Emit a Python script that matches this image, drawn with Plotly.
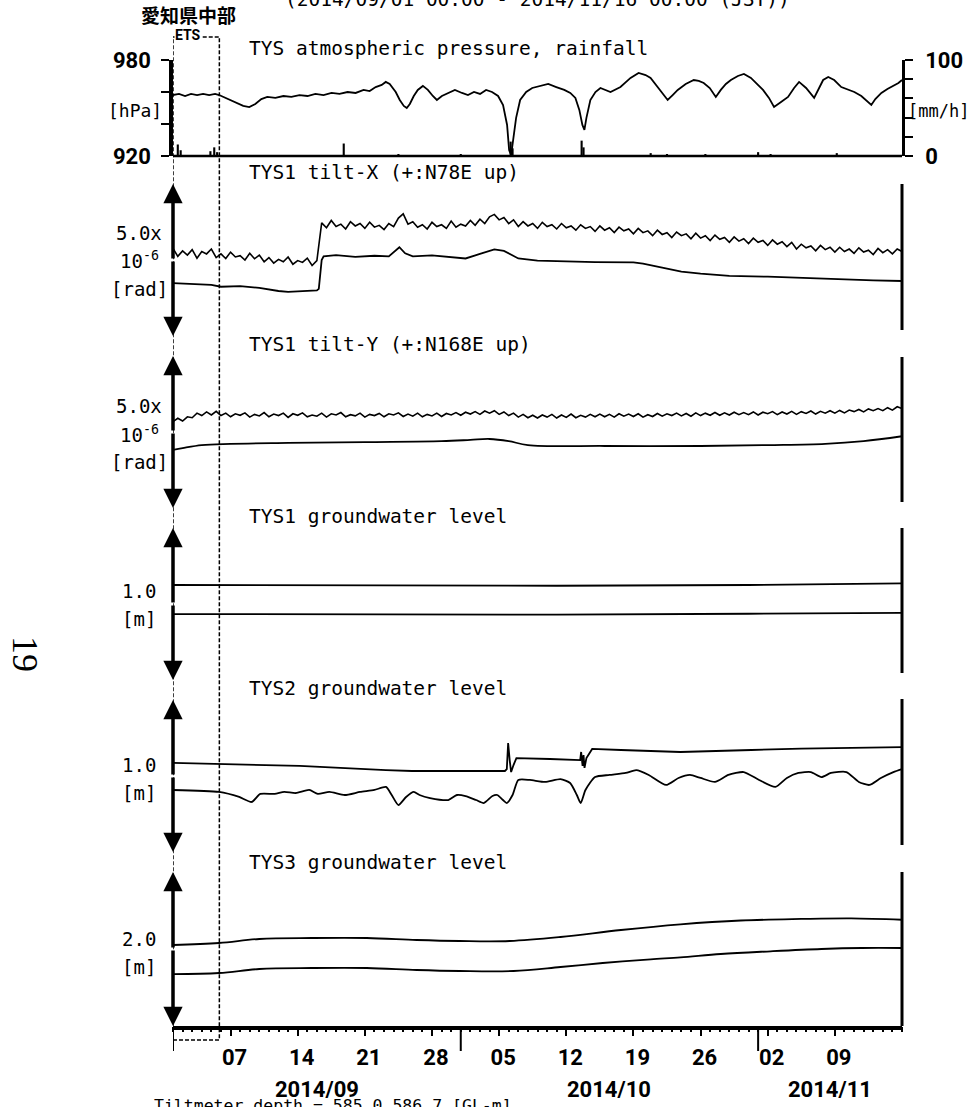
import pandas as pd
import plotly.graph_objects as go

W, H = 975, 1107
START = pd.Timestamp("2014-09-01 00:00")
END = pd.Timestamp("2014-11-16 00:00")

# ---------------- data (days since 2014-09-01 00:00 JST) ----------------
pres_day = [0, 0.63, 1.26, 1.88, 2.51, 3.14, 3.77, 4.39, 4.81,
            5.44, 6.07, 6.69, 7.32, 7.95, 8.58, 9.21, 9.83,
            10.67, 11.51, 12.34, 13.18, 14.02, 14.85, 15.69, 16.53, 17.36, 18.20, 19.04, 19.87,
            20.50, 21.13, 21.76, 22.18, 22.59, 23.22, 23.64, 24.06, 24.37, 24.69, 25.10, 25.52, 26.05, 26.57, 27.09, 27.51,
            28.03, 28.66, 29.39, 30.13, 30.75, 31.38, 32.01, 32.64, 33.26, 33.89,
            34.41, 34.83, 35.04, 35.25, 35.46, 35.77, 36.19, 36.82, 37.45, 38.28, 39.12, 39.96, 40.79, 41.42, 41.95, 42.36,
            42.68, 42.89, 43.10, 43.51, 44.04, 44.56,
            45.61, 46.65, 47.70, 48.54, 49.27, 49.79, 50.63, 51.57, 52.09, 52.62, 53.45, 54.29, 54.81, 55.33, 55.96,
            56.59, 57.11, 57.64, 58.16, 58.89, 59.52, 60.25, 60.98, 61.51, 62.13, 62.66, 63.39, 64.12, 64.75, 65.27,
            66.00, 66.84, 67.36, 67.78, 68.31, 68.93, 69.67, 70.29, 71.03, 71.76, 72.38, 72.80, 73.22, 73.85, 74.48,
            75.10, 75.63, 76.0]
pres_hpa = [958.1, 958.8, 957.5, 958.8, 958.1, 958.8, 958.1, 958.8, 958.1,
            956.3, 955.0, 953.1, 951.3, 950.6, 952.5, 955.6, 956.9,
            956.3, 957.5, 956.9, 958.1, 957.5, 958.8, 958.1, 959.4, 958.8, 960.0, 959.4, 961.3,
            960.6, 963.1, 964.4, 966.3, 965.0, 960.0, 955.0, 951.3, 950.0, 952.5, 957.5, 961.3, 963.8, 961.3, 957.5, 955.0,
            957.5, 959.4, 961.3, 959.4, 958.1, 960.0, 958.8, 961.3, 960.0, 957.5,
            951.9, 939.4, 923.8, 920.6, 930.0, 943.8, 955.0, 960.0, 962.5, 963.8, 965.0, 963.1, 961.3, 959.4, 956.3, 948.8,
            939.4, 936.3, 943.8, 955.0, 960.0, 962.5,
            960.0, 963.1, 968.8, 971.9, 970.6, 968.8, 962.5, 955.0, 958.1, 961.3, 965.0, 967.5, 966.9, 965.6, 962.5,
            956.9, 961.3, 965.0, 967.5, 970.0, 971.3, 968.8, 964.4, 961.3, 956.3, 950.6, 953.8, 956.9, 962.5, 966.3,
            962.5, 956.3, 962.5, 967.5, 969.4, 967.5, 963.1, 961.9, 960.0, 957.5, 953.8, 951.9, 955.6, 959.4, 961.9,
            963.8, 965.6, 967.5]

rain_day = [0.5, 0.8, 3.9, 4.3, 4.6, 17.8, 23.5, 30.0, 35.2, 35.4, 42.6, 42.8, 49.8, 51.5, 55.5, 61.0, 62.3, 69.2]
rain_mmh = [12, 6, 5, 9, 4, 13, 2, 2, 15, 8, 16, 9, 3, 2, 2, 4, 2, 3]

# tilt-X (upper trace: 12-hourly samples, micro-rad relative)
tiltx_hi = [2.88, 2.62, 2.80, 2.66, 2.84, 2.56, 2.78, 2.70, 2.86, 2.58,
            2.70, 2.55, 2.76, 2.60, 2.64, 2.50, 2.72, 2.54, 2.66, 2.44,
            2.58, 2.40, 2.52, 2.44, 2.60, 2.36, 2.48, 2.42, 2.56, 2.32,
            2.48, 3.72, 3.56, 3.80, 3.60, 3.68, 3.52, 3.76, 3.62, 3.70,
            3.54, 3.74, 3.58, 3.64, 3.50, 3.70, 3.60, 3.88, 4.02, 3.68,
            3.76, 3.58, 3.66, 3.52, 3.74, 3.60, 3.66, 3.54, 3.78, 3.58,
            3.68, 3.62, 3.80, 3.64, 3.84, 3.70, 3.92, 4.00, 3.82, 3.90,
            3.70, 3.82, 3.60, 3.76, 3.62, 3.70, 3.54, 3.74, 3.60, 3.66,
            3.52, 3.70, 3.56, 3.62, 3.48, 3.66, 3.54, 3.60, 3.44, 3.62,
            3.48, 3.56, 3.40, 3.58, 3.46, 3.52, 3.36, 3.54, 3.40, 3.46,
            3.30, 3.48, 3.34, 3.40, 3.24, 3.42, 3.30, 3.36, 3.20, 3.38,
            3.22, 3.30, 3.14, 3.32, 3.18, 3.24, 3.08, 3.26, 3.12, 3.20,
            3.04, 3.22, 3.08, 3.14, 2.98, 3.16, 3.02, 3.10, 2.94, 3.08,
            2.86, 3.02, 2.90, 2.96, 2.80, 2.98, 2.84, 2.92, 2.76, 2.92,
            2.78, 2.86, 2.72, 2.90, 2.76, 2.82, 2.68, 2.88, 2.74, 2.84,
            2.70, 2.86, 2.78]
tiltx_lo_day = [0, 2, 4, 5, 7, 9, 10, 11, 12, 13,
                14, 15, 15.2, 15.5, 15.7, 17, 19, 21, 22.5, 23.6,
                24.2, 25, 27, 29, 30.5, 32, 33.5, 34.5, 36, 38,
                41, 44, 48, 49, 51, 53, 55, 58, 62, 66,
                70, 73, 76]
tiltx_lo = [1.74, 1.70, 1.68, 1.62, 1.64, 1.58, 1.52, 1.48, 1.45, 1.47,
            1.48, 1.50, 1.55, 2.50, 2.62, 2.66, 2.60, 2.64, 2.62, 2.92,
            2.72, 2.62, 2.65, 2.58, 2.55, 2.70, 2.85, 2.80, 2.55, 2.48,
            2.45, 2.43, 2.42, 2.38, 2.25, 2.12, 2.05, 1.98, 1.95, 1.90,
            1.86, 1.83, 1.81]

# tilt-Y
tilty_hi = [2.84, 2.95, 2.86, 3.00, 2.97, 3.12, 3.04, 3.16, 3.06, 3.18,
            3.04, 3.12, 3.00, 3.10, 3.05, 3.13, 2.99, 3.08, 3.03, 3.14,
            3.00, 3.09, 3.04, 3.12, 2.98, 3.10, 3.05, 3.13, 3.00, 3.06,
            3.02, 3.12, 2.99, 3.10, 3.06, 3.14, 3.00, 3.07, 3.03, 3.12,
            2.99, 3.08, 3.04, 3.11, 3.00, 3.10, 3.06, 3.13, 3.01, 3.09,
            3.02, 3.12, 3.00, 3.08, 3.03, 3.12, 3.01, 3.11, 3.06, 3.14,
            3.05, 3.15, 3.09, 3.17, 3.08, 3.19, 3.12, 3.20, 3.08, 3.16,
            3.04, 3.12, 2.99, 3.08, 2.97, 3.05, 2.96, 3.06, 2.99, 3.08,
            2.96, 3.06, 2.98, 3.09, 2.97, 3.05, 2.99, 3.08, 3.00, 3.09,
            3.00, 3.08, 2.99, 3.10, 3.02, 3.09, 3.01, 3.10, 2.99, 3.07,
            3.01, 3.11, 3.02, 3.10, 3.04, 3.12, 3.03, 3.11, 3.02, 3.13,
            3.04, 3.12, 3.05, 3.14, 3.05, 3.13, 3.06, 3.15, 3.07, 3.14,
            3.07, 3.16, 3.06, 3.15, 3.10, 3.17, 3.07, 3.16, 3.09, 3.18,
            3.08, 3.17, 3.11, 3.19, 3.09, 3.18, 3.12, 3.20, 3.12, 3.21,
            3.13, 3.22, 3.17, 3.24, 3.16, 3.26, 3.20, 3.27, 3.20, 3.30,
            3.22, 3.33, 3.27]
tilty_lo_day = [0, 1, 3, 6, 12, 20, 28, 31, 33, 35, 37, 45, 55, 62, 68, 72, 76]
tilty_lo = [1.91, 1.97, 2.07, 2.11, 2.14, 2.17, 2.20, 2.24, 2.27, 2.20, 2.07, 2.04, 2.04, 2.07, 2.11, 2.20, 2.36]

# groundwater levels [m, relative]
gw1_day = [0, 20, 40, 60, 76]
gw1_hi = [0.625, 0.622, 0.620, 0.625, 0.636]
gw1_lo = [0.434, 0.432, 0.430, 0.436, 0.441]

gw2_hi_day = [0, 4.8, 13.2, 22.2, 24.9, 29.9, 34.6, 34.8, 34.94, 35.1,
              35.25, 35.5, 35.8, 39.3, 42.45, 42.55, 42.7, 42.8, 42.9, 43.1,
              43.7, 46.7, 52.9, 60.3, 65.5, 76]
gw2_hi = [0.586, 0.579, 0.566, 0.539, 0.533, 0.533, 0.533, 0.546, 0.717, 0.605,
          0.526, 0.572, 0.618, 0.612, 0.605, 0.658, 0.566, 0.638, 0.553, 0.618,
          0.678, 0.671, 0.658, 0.671, 0.680, 0.690]
gw2_lo_day = [0, 4.8, 6.9, 8.2, 9.1, 10.6, 11.6, 12.8, 14.2, 15.1,
              16.3, 17.9, 19.5, 21.0, 22.2, 22.8, 23.5, 24.3, 25.1, 25.7,
              26.8, 28.7, 29.6, 30.5, 31.6, 32.4, 33.3, 33.8, 34.4, 34.8,
              35.4, 36.0, 37.2, 38.8, 40.4, 41.4, 42.1, 42.5, 43.0, 44.0,
              45.5, 47.2, 48.3, 49.6, 51.4, 52.7, 53.9, 55.0, 56.5, 57.9,
              59.5, 61.1, 62.8, 64.0, 65.2, 66.5, 67.6, 68.6, 70.2, 71.5,
              72.6, 73.8, 75.1, 76]
gw2_lo = [0.408, 0.395, 0.362, 0.329, 0.382, 0.382, 0.395, 0.388, 0.408, 0.382,
          0.395, 0.375, 0.395, 0.408, 0.428, 0.375, 0.309, 0.362, 0.395, 0.375,
          0.355, 0.342, 0.375, 0.368, 0.342, 0.322, 0.368, 0.375, 0.342, 0.322,
          0.375, 0.474, 0.474, 0.461, 0.480, 0.454, 0.375, 0.322, 0.408, 0.493,
          0.507, 0.520, 0.539, 0.507, 0.441, 0.487, 0.507, 0.487, 0.461, 0.507,
          0.526, 0.474, 0.428, 0.487, 0.520, 0.526, 0.493, 0.520, 0.526, 0.461,
          0.441, 0.487, 0.526, 0.546]

gw3_hi_day = [0, 4.8, 9, 14.5, 20.2, 25.4, 29.9, 35.1, 40.4, 46.7, 52.9, 59.2, 65.5, 70.7, 76]
gw3_hi = [1.052, 1.078, 1.130, 1.143, 1.143, 1.117, 1.104, 1.104, 1.156, 1.247, 1.320, 1.370, 1.390, 1.398, 1.380]
gw3_lo_day = [0, 4.8, 9, 14.5, 20.2, 25.4, 29.9, 35.5, 40.4, 44.8, 49.8, 52.9, 57.1, 62.3, 67.6, 71.8, 76]
gw3_lo = [0.675, 0.688, 0.740, 0.753, 0.753, 0.727, 0.714, 0.714, 0.766, 0.818, 0.866, 0.890, 0.935, 0.970, 1.000, 1.013, 1.013]

week_days = ["2014-09-07", "2014-09-14", "2014-09-21", "2014-09-28", "2014-10-05",
             "2014-10-12", "2014-10-19", "2014-10-26", "2014-11-02", "2014-11-09"]
week_labels = ["07", "14", "21", "28", "05", "12", "19", "26", "02", "09"]
month_starts = ["2014-09-01", "2014-10-01", "2014-11-01"]
month_labels = ["2014/09", "2014/10", "2014/11"]
month_label_at = ["2014-09-16 00:00", "2014-10-16 12:00", "2014-11-08 12:00"]
ets_period = ["2014-09-01 00:00", "2014-09-05 20:00"]

panel_titles = ["TYS atmospheric pressure, rainfall", "TYS1 tilt-X (+:N78E up)",
                "TYS1 tilt-Y (+:N168E up)", "TYS1 groundwater level",
                "TYS2 groundwater level", "TYS3 groundwater level"]
panel_ranges = [[920, 980], [0, 5.0], [0, 5.0], [0, 1.0], [0, 1.0], [0, 2.0]]
scale_labels = [None, ["5.0x", "10<sup>-6</sup>", "[rad]"], ["5.0x", "10<sup>-6</sup>", "[rad]"],
                ["1.0", "[m]"], ["1.0", "[m]"], ["2.0", "[m]"]]

# ---------------- helpers ----------------
def px(x):
    return x / W

def py(y):
    return 1 - y / H

def t(days):
    return [START + pd.Timedelta(days=d) for d in days]

def t12(n):
    return [START + pd.Timedelta(hours=12 * i) for i in range(n)]

# layout geometry (pixels)
X0, X1 = 173, 902
PANELS = [(60, 156), (184, 336), (356, 508), (528, 680), (700, 852), (872, 1026)]
RIGHT_BAR = [(184, 330), (357, 502), (528, 673), (699, 845), (872, 1026)]
TITLE_Y = [48, 172, 344, 516, 688, 862]
LABEL_Y = [None, [233, 260, 289], [406, 434, 462], [591, 619], [765, 793], [939, 967]]

MONO = "DejaVu Sans Mono, Liberation Mono, monospace"
NUM = "Roboto, Liberation Sans, sans-serif"
LINE = dict(color="black", width=1.8)

fig = go.Figure()

# panel 1
fig.add_trace(go.Scatter(x=t(pres_day), y=pres_hpa, mode="lines", line=LINE, yaxis="y"))
fig.add_trace(go.Bar(x=t(rain_day), y=rain_mmh, width=0.22 * 86400000,
                     marker=dict(color="black", line=dict(width=0)), yaxis="y7"))
# panel 2
fig.add_trace(go.Scatter(x=t12(len(tiltx_hi)), y=tiltx_hi, mode="lines", line=dict(color="black", width=1.6), yaxis="y2"))
fig.add_trace(go.Scatter(x=t(tiltx_lo_day), y=tiltx_lo, mode="lines", line=LINE, yaxis="y2"))
# panel 3
fig.add_trace(go.Scatter(x=t12(len(tilty_hi)), y=tilty_hi, mode="lines", line=dict(color="black", width=1.6), yaxis="y3"))
fig.add_trace(go.Scatter(x=t(tilty_lo_day), y=tilty_lo, mode="lines", line=dict(color="black", width=1.8, shape="spline"), yaxis="y3"))
# panel 4
fig.add_trace(go.Scatter(x=t(gw1_day), y=gw1_hi, mode="lines", line=LINE, yaxis="y4"))
fig.add_trace(go.Scatter(x=t(gw1_day), y=gw1_lo, mode="lines", line=LINE, yaxis="y4"))
# panel 5
fig.add_trace(go.Scatter(x=t(gw2_hi_day), y=gw2_hi, mode="lines", line=LINE, yaxis="y5"))
fig.add_trace(go.Scatter(x=t(gw2_lo_day), y=gw2_lo, mode="lines",
                         line=dict(color="black", width=1.8, shape="spline", smoothing=0.6), yaxis="y5"))
# panel 6
fig.add_trace(go.Scatter(x=t(gw3_hi_day), y=gw3_hi, mode="lines", line=dict(color="black", width=1.8, shape="spline"), yaxis="y6"))
fig.add_trace(go.Scatter(x=t(gw3_lo_day), y=gw3_lo, mode="lines", line=dict(color="black", width=1.8, shape="spline"), yaxis="y6"))
# carrier for the day/week tick axis
fig.add_trace(go.Scatter(x=[START, END], y=[None, None], mode="lines", xaxis="x2", yaxis="y6", hoverinfo="skip"))

layout = dict(
    width=W, height=H, margin=dict(l=0, r=0, t=0, b=0, pad=0, autoexpand=False),
    paper_bgcolor="white", plot_bgcolor="white", showlegend=False,
    font=dict(family=MONO, color="black"),
    xaxis=dict(range=[START, END], domain=[px(X0), px(X1)], anchor="y6", automargin=False,
               showline=True, linewidth=3.5, linecolor="black", showgrid=False, zeroline=False,
               tickmode="array", tickvals=[pd.Timestamp(d) for d in week_days], ticktext=week_labels,
               ticks="", ticklabelshift=4, ticklabelstandoff=9,
               tickfont=dict(family=NUM, size=22, color="black", weight="bold")),
    xaxis2=dict(range=[START, END], domain=[px(X0), px(X1)], anchor="y6", overlaying="x", automargin=False,
                showline=False, showgrid=False, zeroline=False, showticklabels=False,
                tickmode="array", tickvals=[pd.Timestamp(d) for d in week_days],
                ticks="outside", ticklen=9, tickwidth=2, tickcolor="black",
                minor=dict(ticks="outside", ticklen=5, tickwidth=1.5, tickcolor="black",
                           tickmode="linear", tick0=START, dtick=86400000, showgrid=False)),
)
for i, (top, bot) in enumerate(PANELS):
    name = "yaxis" if i == 0 else f"yaxis{i + 1}"
    ax = dict(domain=[py(bot), py(top)], range=panel_ranges[i], anchor="x", automargin=False,
              showgrid=False, zeroline=False, showline=False, showticklabels=False, ticks="")
    if i == 0:
        ax.update(showline=True, linewidth=3.5, linecolor="black", showticklabels=True,
                  tickmode="array", tickvals=[920, 940, 960, 980], ticktext=["920", "", "", "980"],
                  ticks="outside", ticklen=8, tickwidth=2, tickcolor="black", ticklabelstandoff=6,
                  tickfont=dict(family=NUM, size=22, color="black", weight="bold"))
    layout[name] = ax
layout["yaxis7"] = dict(domain=[py(PANELS[0][1]), py(PANELS[0][0])], range=[0, 100], anchor="x",
                        overlaying="y", side="right", showgrid=False, zeroline=False, automargin=False,
                        showline=True, linewidth=2.5, linecolor="black",
                        tickmode="array", tickvals=[0, 20, 40, 60, 80, 100],
                        ticktext=["0", "", "", "", "", "100"],
                        ticks="outside", ticklen=8, tickwidth=2, tickcolor="black", ticklabelstandoff=8,
                        tickfont=dict(family=NUM, size=22, color="black", weight="bold"))
fig.update_layout(**layout)

shapes = []
ann = []
# panel-1 baseline
shapes.append(dict(type="line", xref="paper", yref="paper", x0=px(X0), x1=px(X1),
                   y0=py(PANELS[0][1]), y1=py(PANELS[0][1]), line=dict(color="black", width=2.5)))
# right borders
for top, bot in RIGHT_BAR:
    shapes.append(dict(type="line", xref="paper", yref="paper", x0=px(X1), x1=px(X1),
                       y0=py(bot), y1=py(top), line=dict(color="black", width=3)))
# double arrows on left
for top, bot in PANELS[1:]:
    half = (bot - top) / 2
    for tip, off in ((top, half), (bot, -half)):
        ann.append(dict(x=px(X0), y=py(tip), ax=0, ay=off, xref="paper", yref="paper",
                        axref="pixel", ayref="pixel", showarrow=True, arrowhead=2, arrowsize=1.1,
                        arrowwidth=3.5, arrowcolor="black", text=""))
# month-boundary ticks
for m in month_starts:
    shapes.append(dict(type="line", xref="x", yref="paper", x0=pd.Timestamp(m), x1=pd.Timestamp(m),
                       y0=py(1026), y1=py(1051), line=dict(color="black", width=2)))
# ETS box
shapes.append(dict(type="rect", xref="x", yref="paper", x0=pd.Timestamp(ets_period[0]),
                   x1=pd.Timestamp(ets_period[1]), y0=py(1040), y1=py(37),
                   line=dict(color="black", width=1.5, dash="4px,2px")))
fig.update_layout(shapes=shapes)

# titles
for ttl, yy in zip(panel_titles, TITLE_Y):
    ann.append(dict(x=px(247), y=py(yy), xref="paper", yref="paper", text=ttl, showarrow=False,
                    xanchor="left", yanchor="middle", font=dict(family=MONO, size=19.5, color="black")))
# scale labels
for labels, ys in zip(scale_labels, LABEL_Y):
    if labels is None:
        continue
    for lab, yy in zip(labels, ys):
        ann.append(dict(x=px(139), y=py(yy), xref="paper", yref="paper", text=lab, showarrow=False,
                        xanchor="center", yanchor="middle", font=dict(family=MONO, size=19, color="black")))
ann.append(dict(x=px(164), y=py(111), xref="paper", yref="paper", text="[hPa]", showarrow=False,
                xanchor="right", yanchor="middle", font=dict(family=MONO, size=18, color="black")))
ann.append(dict(x=px(906), y=py(111), xref="paper", yref="paper", text="[mm/h]", showarrow=False,
                xanchor="left", yanchor="middle", font=dict(family=MONO, size=17, color="black")))
# month labels
for lab, pos in zip(month_labels, month_label_at):
    ann.append(dict(x=pd.Timestamp(pos), y=py(1089), xref="x", yref="paper", text=lab, showarrow=False,
                    xanchor="center", yanchor="middle",
                    font=dict(family=NUM, size=22, color="black", weight="bold")))
# ETS labels
ann.append(dict(x=px(188), y=py(15), xref="paper", yref="paper", text="愛知県中部", showarrow=False,
                xanchor="center", yanchor="middle",
                font=dict(family="Noto Sans CJK JP", size=19, color="black", weight="bold")))
ann.append(dict(x=px(174), y=py(35), xref="paper", yref="paper", text="ETS", showarrow=False,
                xanchor="left", yanchor="middle", bgcolor="white", borderpad=0,
                font=dict(family=NUM, size=14, color="black", weight="bold")))
# header line (cut by page edge) and footer
ann.append(dict(x=px(537), y=py(13), xref="paper", yref="paper",
                text="(2014/09/01 00:00 - 2014/11/16 00:00 (JST))", showarrow=False,
                xanchor="center", yanchor="bottom", font=dict(family=MONO, size=19.5, color="black")))
ann.append(dict(x=px(152), y=py(1094), xref="paper", yref="paper",
                text="Tiltmeter depth = 585.0,586.7 [GL-m]", showarrow=False,
                xanchor="left", yanchor="top", font=dict(family=MONO, size=16.5, color="black")))
# page number
ann.append(dict(x=px(25), y=py(654), xref="paper", yref="paper", text="19", showarrow=False,
                xanchor="center", yanchor="middle", textangle=90,
                font=dict(family="Liberation Serif, serif", size=36, color="black")))
fig.update_layout(annotations=ann)

fig.write_html("out.html", config={"displayModeBar": False},
               post_script="document.body.style.margin='0px';document.body.style.overflow='hidden';")
